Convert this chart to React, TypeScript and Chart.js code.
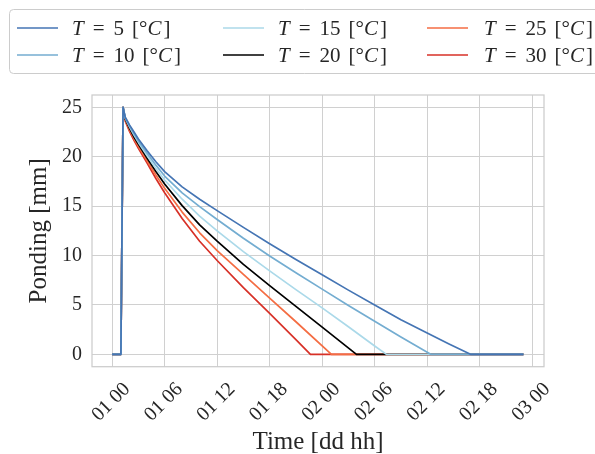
import React, { useEffect, useRef } from "react";
import { Chart, registerables } from "chart.js";
Chart.register(...registerables);

const FONT = "'Liberation Serif', 'DejaVu Serif', serif";
const TEXT = "#262626";
const GRID = "#d0d0d0";

const seriesTemps = ["5", "10", "15", "20", "25", "30"];
const seriesColors = ["#4575b4", "#74add1", "#abd9e9", "#000000", "#f46d43", "#d73027"];

// hours since 01 00
const t5 = [0, 1, 1.25, 1.5, 2, 2.5, 3, 4, 5, 6, 8, 10, 12, 15, 18, 21, 24, 27, 30, 33, 36, 38.5, 40.95, 47];
const p5 = [0, 0, 25, 24.0, 23.2, 22.5, 21.8, 20.6, 19.5, 18.5, 16.95, 15.7, 14.55, 12.85, 11.2, 9.6, 8.05, 6.5, 5.0, 3.5, 2.15, 1.05, 0, 0];

const t10 = [0, 1, 1.25, 1.5, 2, 2.5, 3, 4, 5, 6, 8, 10, 12, 15, 18, 21, 24, 27, 30, 33, 36.4, 47];
const p10 = [0, 0, 25, 23.95, 23.1, 22.35, 21.6, 20.35, 19.15, 18.05, 16.35, 14.95, 13.65, 11.75, 9.95, 8.25, 6.6, 4.95, 3.35, 1.75, 0, 0];

const t15 = [0, 1, 1.25, 1.5, 2, 2.5, 3, 4, 5, 6, 8, 10, 12, 15, 18, 21, 24, 27, 30, 31.35, 47];
const p15 = [0, 0, 25, 23.9, 23.0, 22.2, 21.45, 20.1, 18.8, 17.65, 15.7, 14.0, 12.5, 10.4, 8.45, 6.55, 4.7, 2.8, 0.85, 0, 0];

const t20 = [0, 1, 1.25, 1.5, 2, 2.5, 3, 4, 5, 6, 8, 10, 12, 15, 18, 21, 24, 27.92, 47];
const p20 = [0, 0, 25, 23.8, 22.85, 22.0, 21.25, 19.85, 18.5, 17.25, 15.05, 13.1, 11.45, 9.1, 6.95, 4.85, 2.75, 0, 0];

const t25 = [0, 1, 1.25, 1.5, 2, 2.5, 3, 4, 5, 6, 8, 10, 12, 15, 18, 21, 25.06, 47];
const p25 = [0, 0, 25, 23.7, 22.7, 21.85, 21.05, 19.6, 18.15, 16.8, 14.4, 12.3, 10.5, 8.1, 5.7, 3.3, 0, 0];

const t30 = [0, 1, 1.25, 1.5, 2, 2.5, 3, 4, 5, 6, 8, 10, 12, 15, 18, 21, 22.66, 47];
const p30 = [0, 0, 25, 23.6, 22.55, 21.65, 20.85, 19.35, 17.8, 16.35, 13.75, 11.45, 9.5, 6.75, 4.15, 1.5, 0, 0];

const seriesTimes = [t5, t10, t15, t20, t25, t30];
const seriesValues = [p5, p10, p15, p20, p25, p30];

const xTickValues = [0, 6, 12, 18, 24, 30, 36, 42, 48];
const xTickLabels = ["01 00", "01 06", "01 12", "01 18", "02 00", "02 06", "02 12", "02 18", "03 00"];
const yTickValues = [0, 5, 10, 15, 20, 25];

const xTitle = "Time [dd hh]";
const yTitle = "Ponding [mm]";

const legendPlugin = {
  id: "mplLegend",
  afterDraw(chart: any) {
    const ctx = chart.ctx as CanvasRenderingContext2D;
    ctx.save();
    ctx.beginPath();
    (ctx as any).roundRect(9.5, 9.5, 600, 64, 4);
    ctx.fillStyle = "rgba(255,255,255,0.85)";
    ctx.fill();
    ctx.strokeStyle = "#cccccc";
    ctx.lineWidth = 1;
    ctx.stroke();

    const colLine = [17, 223, 427];
    const colText = [72, 278, 484];
    const rowY = [28, 55];
    chart.data.datasets.forEach((ds: any, i: number) => {
      const col = Math.floor(i / 2);
      const row = i % 2;
      const y = rowY[row];
      ctx.beginPath();
      ctx.moveTo(colLine[col], y);
      ctx.lineTo(colLine[col] + 41, y);
      ctx.strokeStyle = ds.borderColor;
      ctx.lineWidth = 1.7;
      ctx.stroke();

      const parts = [
        { t: "T", it: true, gap: 9 },
        { t: "=", it: false, gap: 9 },
        { t: seriesTemps[i], it: false, gap: 8 },
        { t: "[°", it: false, gap: 0 },
        { t: "C", it: true, gap: 2 },
        { t: "]", it: false, gap: 0 },
      ];
      let x = colText[col];
      ctx.fillStyle = TEXT;
      ctx.textBaseline = "middle";
      ctx.textAlign = "left";
      for (const p of parts) {
        ctx.font = `${p.it ? "italic " : ""}21px ${FONT}`;
        ctx.fillText(p.t, x, y + 1);
        x += ctx.measureText(p.t).width + p.gap;
      }
    });
    ctx.restore();
  },
};

const framePlugin = {
  id: "frame",
  afterDatasetsDraw(chart: any) {
    const { left, top, right, bottom } = chart.chartArea;
    const ctx = chart.ctx as CanvasRenderingContext2D;
    ctx.save();
    ctx.strokeStyle = "#cccccc";
    ctx.lineWidth = 1.25;
    ctx.strokeRect(left, top, right - left, bottom - top);
    ctx.restore();
  },
};

export default function App() {
  const ref = useRef<HTMLCanvasElement | null>(null);
  useEffect(() => {
    if (!ref.current) return;
    const datasets = seriesTemps.map((temp, i) => ({
      label: `T = ${temp} [°C]`,
      data: seriesTimes[i].map((t, j) => ({ x: t, y: seriesValues[i][j] })),
      borderColor: seriesColors[i],
      backgroundColor: seriesColors[i],
      borderWidth: 1.7,
      pointRadius: 0,
      tension: 0,
      borderJoinStyle: "round" as const,
      fill: false,
    }));
    const chart = new Chart(ref.current, {
      type: "line",
      data: { datasets },
      plugins: [framePlugin, legendPlugin],
      options: {
        animation: false,
        responsive: false,
        devicePixelRatio: 1,
        layout: { padding: { top: 95, right: 51, bottom: 0, left: 0 } },
        plugins: { legend: { display: false }, tooltip: { enabled: false } },
        scales: {
          x: {
            type: "linear",
            min: -2.3,
            max: 49.35,
            afterBuildTicks: (s: any) => {
              s.ticks = xTickValues.map((v) => ({ value: v }));
            },
            afterFit: (s: any) => {
              s.height = 87.3;
            },
            ticks: {
              autoSkip: false,
              minRotation: 45,
              maxRotation: 45,
              labelOffset: 15,
              padding: 11,
              color: TEXT,
              font: { family: FONT, size: 20 },
              callback: (v: any) => xTickLabels[xTickValues.indexOf(Number(v))] ?? "",
            },
            grid: { color: GRID, lineWidth: 1, drawTicks: false },
            border: { display: false },
            title: {
              display: true,
              text: xTitle,
              color: TEXT,
              font: { family: FONT, size: 25 },
              padding: { top: 0, bottom: -3 },
            },
          },
          y: {
            type: "linear",
            min: -1.25,
            max: 26.25,
            afterBuildTicks: (s: any) => {
              s.ticks = yTickValues.map((v) => ({ value: v }));
            },
            afterFit: (s: any) => {
              s.width = 92;
            },
            ticks: {
              padding: 10,
              color: TEXT,
              font: { family: FONT, size: 20 },
            },
            grid: { color: GRID, lineWidth: 1, drawTicks: false },
            border: { display: false },
            title: {
              display: true,
              text: yTitle,
              color: TEXT,
              font: { family: FONT, size: 25 },
              padding: { top: 24, bottom: 0 },
            },
          },
        },
      },
    });
    return () => chart.destroy();
  }, []);
  return (
    <canvas
      ref={ref}
      width={595}
      height={454}
      style={{ position: "fixed", left: 0, top: 0, width: 595, height: 454 }}
    />
  );
}
